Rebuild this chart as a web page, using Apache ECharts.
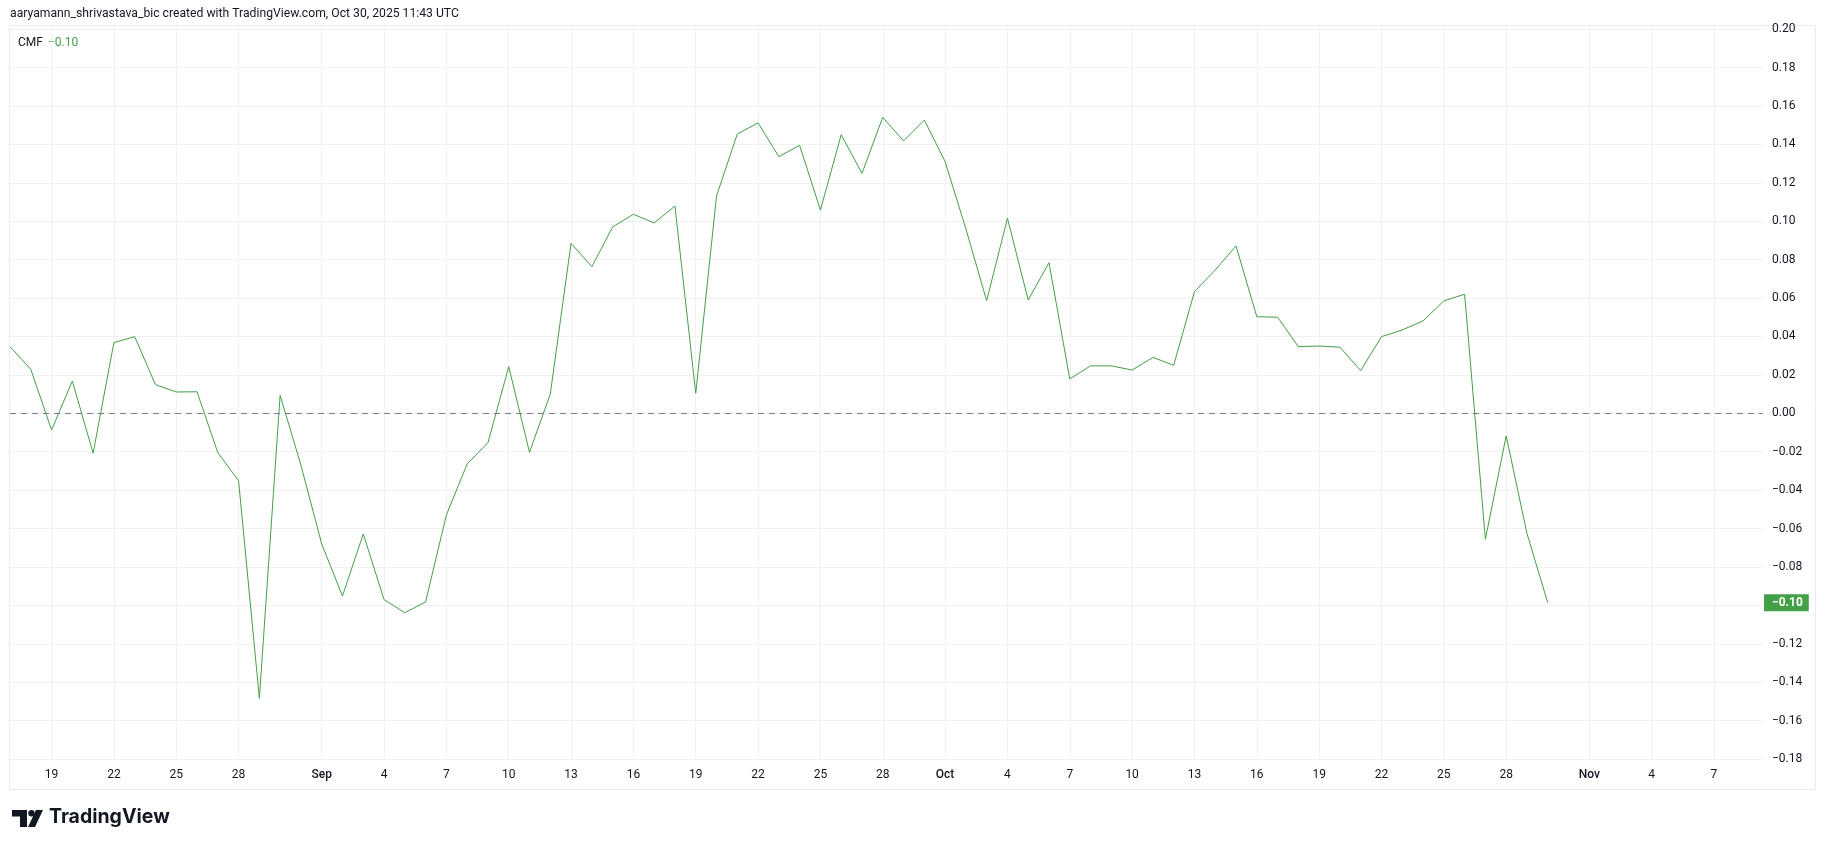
<!DOCTYPE html>
<html>
<head>
<meta charset="utf-8">
<script src="https://cdn.jsdelivr.net/npm/echarts@6/dist/echarts.min.js"></script>
<style>
  html, body { margin: 0; padding: 0; background: #ffffff; }
  #chart { width: 1825px; height: 849px; }
</style>
</head>
<body>
<div id="chart"></div>
<script>
// ---- data ----
const dates = [
  '2025-08-17','2025-08-18','2025-08-19','2025-08-20','2025-08-21','2025-08-22','2025-08-23','2025-08-24',
  '2025-08-25','2025-08-26','2025-08-27','2025-08-28','2025-08-29','2025-08-30','2025-08-31',
  '2025-09-01','2025-09-02','2025-09-03','2025-09-04','2025-09-05','2025-09-06','2025-09-07','2025-09-08',
  '2025-09-09','2025-09-10','2025-09-11','2025-09-12','2025-09-13','2025-09-14','2025-09-15','2025-09-16',
  '2025-09-17','2025-09-18','2025-09-19','2025-09-20','2025-09-21','2025-09-22','2025-09-23','2025-09-24',
  '2025-09-25','2025-09-26','2025-09-27','2025-09-28','2025-09-29','2025-09-30',
  '2025-10-01','2025-10-02','2025-10-03','2025-10-04','2025-10-05','2025-10-06','2025-10-07','2025-10-08',
  '2025-10-09','2025-10-10','2025-10-11','2025-10-12','2025-10-13','2025-10-14','2025-10-15','2025-10-16',
  '2025-10-17','2025-10-18','2025-10-19','2025-10-20','2025-10-21','2025-10-22','2025-10-23','2025-10-24',
  '2025-10-25','2025-10-26','2025-10-27','2025-10-28','2025-10-29','2025-10-30'
];
const cmfValues = [
  0.0347, 0.0229, -0.0087, 0.0168, -0.0208, 0.0368, 0.0399, 0.0149,
  0.0111, 0.0112, -0.0205, -0.0351, -0.1484, 0.0094, -0.0270,
  -0.0680, -0.0951, -0.0628, -0.0970, -0.1038, -0.0982, -0.0529, -0.0264,
  -0.0153, 0.0243, -0.0203, 0.0100, 0.0885, 0.0763, 0.0970, 0.1036,
  0.0991, 0.1079, 0.0104, 0.1131, 0.1454, 0.1512, 0.1336, 0.1395,
  0.1058, 0.1450, 0.1249, 0.1541, 0.1418, 0.1527,
  0.1310, 0.0960, 0.0586, 0.1015, 0.0590, 0.0784, 0.0179, 0.0247,
  0.0247, 0.0225, 0.0291, 0.0250, 0.0633, 0.0746, 0.0871, 0.0503,
  0.0500, 0.0347, 0.0350, 0.0344, 0.0222, 0.0399, 0.0434, 0.0481,
  0.0585, 0.0620, -0.0656, -0.0118, -0.0625, -0.0986
];
const xTickDates = [
  '2025-08-19','2025-08-22','2025-08-25','2025-08-28','2025-09-01','2025-09-04','2025-09-07','2025-09-10',
  '2025-09-13','2025-09-16','2025-09-19','2025-09-22','2025-09-25','2025-09-28','2025-10-01','2025-10-04',
  '2025-10-07','2025-10-10','2025-10-13','2025-10-16','2025-10-19','2025-10-22','2025-10-25','2025-10-28',
  '2025-11-01','2025-11-04','2025-11-07'
];
const yTicks = [-0.18,-0.16,-0.14,-0.12,-0.10,-0.08,-0.06,-0.04,-0.02,0.00,0.02,0.04,0.06,0.08,0.10,0.12,0.14,0.16,0.18,0.20];
const monthNames = ['Jan','Feb','Mar','Apr','May','Jun','Jul','Aug','Sep','Oct','Nov','Dec'];
const headerText = 'aaryamann_shrivastava_bic created with TradingView.com, Oct 30, 2025 11:43 UTC';
const indicatorName = 'CMF';

// ---- helpers ----
const DAY = 86400000;
function ts(s) { const p = s.split('-').map(Number); return Date.UTC(p[0], p[1] - 1, p[2]); }
function fmtNum(v) { const s = (Math.abs(v) < 1e-9 ? 0 : v).toFixed(2); return s.replace('-', '\u2212'); }
const seriesData = dates.map((d, i) => [ts(d), cmfValues[i]]);
const lastVal = cmfValues[cmfValues.length - 1];
const xMin = ts(dates[0]);
const xMax = ts('2025-09-01') + 69.36 * DAY;
const FONT = 'Roboto, "Noto Sans", sans-serif';
const GREEN = '#43a047';
const TEXT = '#131722';
const GRID = '#f0f1f4';

const chart = echarts.init(document.getElementById('chart'), null, { renderer: 'canvas' });
chart.setOption({
  animation: false,
  backgroundColor: '#ffffff',
  textStyle: { fontFamily: FONT },
  grid: { left: 10, right: 62, top: 26, bottom: 89, containLabel: false },
  xAxis: {
    type: 'value',
    min: xMin,
    max: xMax,
    axisLine: { show: false },
    axisTick: { show: false, customValues: xTickDates.map(ts) },
    splitLine: { show: true, lineStyle: { color: GRID, width: 1 } },
    axisLabel: {
      customValues: xTickDates.map(ts),
      color: TEXT, fontSize: 12, fontFamily: FONT, margin: 9,
      formatter: function (v) {
        const d = new Date(v);
        return d.getUTCDate() === 1 ? '{m|' + monthNames[d.getUTCMonth()] + '}' : String(d.getUTCDate());
      },
      rich: { m: { color: TEXT, fontSize: 12, fontFamily: FONT, fontWeight: 500 } }
    }
  },
  yAxis: [
    {
      type: 'value', position: 'right', min: -0.18048, max: 0.20161,
      axisLine: { show: false },
      axisTick: { show: false, customValues: yTicks },
      splitLine: { show: true, lineStyle: { color: GRID, width: 1 } },
      axisLabel: {
        customValues: yTicks, color: TEXT, fontSize: 12, fontFamily: FONT,
        margin: 9, align: 'left', formatter: fmtNum
      }
    },
    {
      type: 'value', position: 'right', min: -0.18048, max: 0.20161,
      axisLine: { show: false },
      axisTick: { show: false, customValues: [lastVal] },
      splitLine: { show: false },
      axisLabel: {
        customValues: [lastVal], color: '#ffffff', fontSize: 12, fontFamily: FONT,
        fontWeight: 'bold',
        margin: 1, align: 'left', formatter: fmtNum,
        backgroundColor: GREEN, padding: [3, 6, 2, 8]
      }
    }
  ],
  series: [{
    type: 'line',
    data: seriesData,
    showSymbol: false,
    symbol: 'none',
    lineStyle: { color: GREEN, width: 1 },
    itemStyle: { color: GREEN },
    clip: true,
    silent: true,
    markLine: {
      silent: true,
      symbol: ['none', 'none'],
      label: { show: false },
      lineStyle: { color: '#787b86', width: 1, type: [6, 5] },
      data: [{ yAxis: 0 }]
    }
  }],
  graphic: [
    { type: 'rect', silent: true, z: 0, shape: { x: 9.5, y: 25.5, width: 1806, height: 764 },
      style: { fill: 'none', stroke: '#e9ebf0', lineWidth: 1 } },
    { type: 'text', silent: true, left: 10, top: 8,
      style: { text: headerText, fill: TEXT, font: '12.2px ' + FONT } },
    { type: 'text', silent: true, left: 18, top: 37,
      style: { text: indicatorName, fill: TEXT, font: '12px ' + FONT } },
    { type: 'text', silent: true, left: 48, top: 37,
      style: { text: fmtNum(lastVal), fill: GREEN, font: '12px ' + FONT } },
    // TradingView logo
    { type: 'polygon', silent: true, shape: { points: [[12,810],[27,810],[27,827],[20,827],[20,816.5],[12,816.5]] },
      style: { fill: '#131722' } },
    { type: 'circle', silent: true, shape: { cx: 31.5, cy: 813.2, r: 3.2 }, style: { fill: '#131722' } },
    { type: 'polygon', silent: true, shape: { points: [[36,810],[43,810],[35,827],[28,827]] },
      style: { fill: '#131722' } },
    { type: 'text', silent: true, left: 49, top: 807,
      style: { text: 'TradingView', fill: '#131722', font: 'bold 19.5px Inter, Roboto, sans-serif' } }
  ]
});
</script>
</body>
</html>
